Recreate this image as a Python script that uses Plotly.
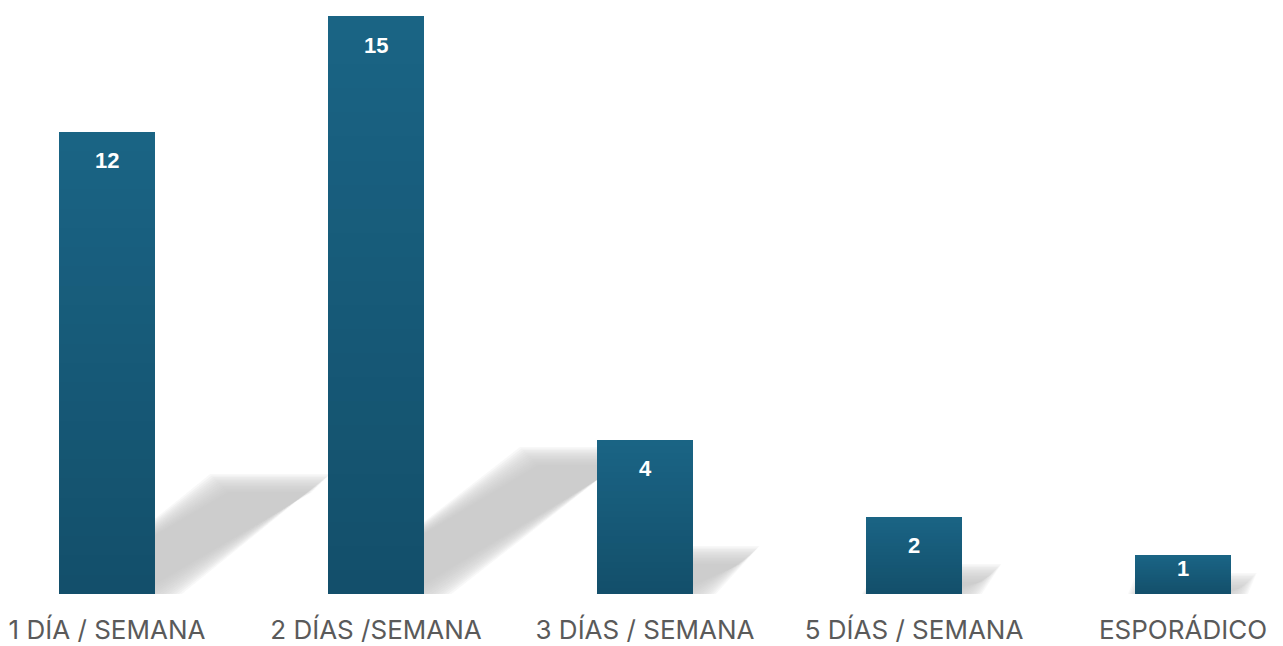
import plotly.graph_objects as go

# ---- data ----
categories = ["1 DÍA / SEMANA", "2 DÍAS /SEMANA", "3 DÍAS / SEMANA", "5 DÍAS / SEMANA", "ESPORÁDICO"]
values = [12, 15, 4, 2, 1]

# ---- styling constants ----
PAGE_OFF = 8                      # default body margin of the html page
W, H = 1283 - PAGE_OFF, 646 - PAGE_OFF
PX_PER_CAT = 269.0
BAR_W = 96 / PX_PER_CAT
PX_PER_Y = 578 / 15.0
BASE_PX = 594 - PAGE_OFF          # baseline in figure pixels
Y_TOP = BASE_PX / PX_PER_Y
X_RANGE = [(PAGE_OFF - 107) / PX_PER_CAT, (1283 - 107) / PX_PER_CAT]
TOP_RGB = (26, 100, 133)
BOT_RGB = (19, 79, 106)
N_SEG = 24
SH_DX = 13.6 / PX_PER_CAT   # shadow horizontal run per unit value
SH_DY = 9.0 / PX_PER_Y      # shadow vertical rise per unit value
BLUR_STEPS = [12, 10.5, 9, 7.5, 6, 4.5, 3, 1.5, 0, -1.5, -3, -4.5, -6]

xs = list(range(len(categories)))
fig = go.Figure()

# ---- shadows (main axes, below the bars) ----
for e_px in BLUR_STEPS:
    ex = e_px / PX_PER_CAT
    ey = e_px / PX_PER_Y
    for x, v in zip(xs, values):
        hw = BAR_W / 2
        dx, dy = SH_DX * v, SH_DY * v
        px = [x - hw - ex, x + hw + ex, x + hw + dx + ex, x - hw + dx - ex, x - hw - ex]
        py = [0 - ey, 0 - ey, dy + ey, dy + ey, 0 - ey]
        fig.add_trace(go.Scatter(x=px, y=py, mode="lines", fill="toself",
                                 fillcolor="rgba(194,194,194,0.12)",
                                 line=dict(width=0), hoverinfo="skip",
                                 showlegend=False, xaxis="x", yaxis="y"))

# ---- gradient bars (stacked segments, overlay axes) ----
for k in range(N_SEG):
    t = (k + 0.5) / N_SEG  # 0 bottom -> 1 top
    rgb = tuple(round(BOT_RGB[j] + (TOP_RGB[j] - BOT_RGB[j]) * t) for j in range(3))
    fig.add_trace(go.Bar(x=xs, y=[v / N_SEG for v in values], width=BAR_W,
                         marker=dict(color="rgb(%d,%d,%d)" % rgb, line=dict(width=0)),
                         hoverinfo="skip", showlegend=False,
                         xaxis="x2", yaxis="y2"))

for x, v in zip(xs, values):
    bar_px = v * PX_PER_Y
    fig.add_annotation(x=x, y=v, xref="x2", yref="y2", text=str(v), showarrow=False,
                       yshift=-min(29, bar_px - 26),
                       font=dict(family="Liberation Sans", size=22,
                                 color="white", weight="bold"))

axis_common = dict(showgrid=False, zeroline=False, showline=False)
fig.update_layout(
    width=W, height=H,
    margin=dict(l=0, r=0, t=0, b=H - BASE_PX),
    paper_bgcolor="white", plot_bgcolor="rgba(0,0,0,0)",
    barmode="stack",
    xaxis=dict(range=X_RANGE, tickvals=xs, ticktext=categories, ticks="",
               tickfont=dict(family="Inter", size=26, color="#5a5a5a"),
               ticklabelstandoff=18, **axis_common),
    yaxis=dict(range=[0, Y_TOP], showticklabels=False, ticks="", **axis_common),
    xaxis2=dict(range=X_RANGE, overlaying="x", showticklabels=False, ticks="", **axis_common),
    yaxis2=dict(range=[0, Y_TOP], overlaying="y", showticklabels=False, ticks="", **axis_common),
    showlegend=False,
)

fig.write_html("out.html")
